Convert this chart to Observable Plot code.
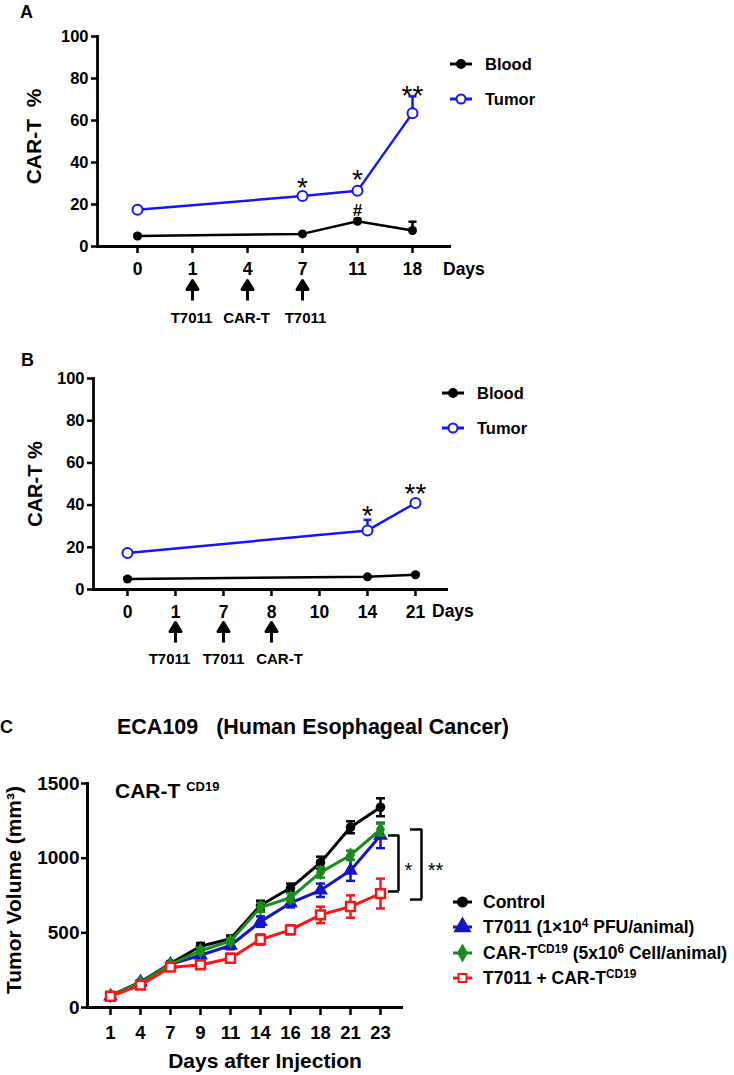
<!DOCTYPE html>
<html><head><meta charset="utf-8">
<script src="https://cdn.jsdelivr.net/npm/d3@7"></script>
<script src="https://cdn.jsdelivr.net/npm/@observablehq/plot@0.6"></script>
<style>
body{margin:0;background:#fff;}
#root{position:relative;width:734px;height:1075px;overflow:hidden;font-family:"Liberation Sans",Arial,Helvetica,sans-serif;font-weight:bold;color:#000;}
.abs{position:absolute;white-space:pre;line-height:1;}
sup{font-size:0.68em;vertical-align:baseline;position:relative;top:-0.5em;}
</style></head><body><div id="root"></div>
<script>
// ---------- Panel A data ----------
const daysA = ["0","1","4","7","11","18"];
const measDaysA = ["0","7","11","18"];
const bloodA = [5, 6, 12, 7.6];
const bloodAErr = [0.8, 0.5, 1.2, 4.2];
const tumorA = [17.5, 24, 26.5, 63.5];
const tumorAErr = [1, 1.5, 1.5, 8];
const treatDaysA = ["1","4","7"];
const treatLabelsA = ["T7011","CAR-T","T7011"];
const sigDaysA = ["7","11","18","11"];
const sigTextA = ["*","*","**","#"];
const sigYA = [31.4, 34.8, 75.2, 17.1];

// ---------- Panel B data ----------
const daysB = ["0","1","7","8","10","14","21"];
const measDaysB = ["0","14","21"];
const bloodB = [5, 6, 7];
const bloodBErr = [0.8, 0.4, 0.5];
const tumorB = [17.3, 28, 41];
const tumorBErr = [0.8, 5, 1.5];
const treatDaysB = ["1","7","8"];
const treatLabelsB = ["T7011","T7011","CAR-T"];
const sigDaysB = ["14","21"];
const sigTextB = ["*","**"];
const sigYB = [38.2, 48.5];

// ---------- Panel C data ----------
const daysC = ["1","4","7","9","11","14","16","18","21","23"];
const groupsC = ["Control","T7011","CAR-T","Combo"];
const controlC = [80, 170, 295, 410, 460, 685, 800, 970, 1207, 1341];
const controlErr = [12, 12, 15, 22, 22, 30, 30, 40, 40, 60];
const t7011C = [75, 170, 290, 350, 415, 575, 700, 785, 918, 1152];
const t7011Err = [10, 10, 15, 20, 25, 35, 30, 45, 70, 85];
const cartC = [80, 165, 290, 380, 445, 670, 735, 905, 1020, 1192];
const cartErr = [10, 10, 15, 20, 20, 30, 30, 35, 30, 40];
const comboC = [75, 150, 270, 285, 330, 455, 520, 620, 676, 763];
const comboErr = [15, 20, 20, 25, 30, 35, 30, 55, 75, 100];
const bracketsC = [{y1: 1152, y2: 777, t: "*"}, {y1: 1192, y2: 723, t: "**"}];
const sigYC = 951;

const FONT = '"Liberation Sans", Arial, Helvetica, sans-serif';
const BLUE = "#1515ff";
const root = document.getElementById("root");

function addSvg(svg, top) {
  svg.style.position = "absolute";
  svg.style.left = "0px";
  svg.style.top = top + "px";
  root.appendChild(svg);
}
function addText(html, left, top, size, extra = {}) {
  const d = document.createElement("div");
  d.className = "abs";
  d.innerHTML = html;
  Object.assign(d.style, {left: left + "px", top: top + "px", fontSize: size + "px"}, extra);
  root.appendChild(d);
  return d;
}
function legendItem(left, cy, color, symName, r, fill, html, fontSize, lineW, gap) {
  const div = document.createElement("div");
  div.style.cssText = `position:absolute;left:${left}px;top:${cy - 12}px;height:24px;display:flex;align-items:center;white-space:pre;font-size:${fontSize}px;`;
  const sym = d3.symbol(d3[symName], Math.PI * r * r)();
  div.innerHTML = `<svg width="${lineW}" height="24" style="overflow:visible;margin-right:${gap}px"><line x1="0" x2="${lineW}" y1="12" y2="12" stroke="${color}" stroke-width="3"/><path d="${sym}" transform="translate(${lineW / 2},12)" fill="${fill}" stroke="${color}" stroke-width="2"/></svg><span>${html}</span>`;
  root.appendChild(div);
}

const capSym = {draw(ctx, size) { const r = Math.sqrt(size / Math.PI); ctx.moveTo(-r, 0); ctx.lineTo(r, 0); }};
const arrowShape = {draw(ctx, l) {
  const hl = 9, hw = 5.5;
  ctx.moveTo(0, 0); ctx.lineTo(0, -(l - hl));
  ctx.moveTo(-hw, -(l - hl)); ctx.lineTo(0, -l); ctx.lineTo(hw, -(l - hl)); ctx.closePath();
}};

function series(days, vals, errs) { return days.map((d, i) => ({day: d, v: vals[i], e: errs[i]})); }

function panelAB(opts) {
  const {days, meas, blood, bloodErr, tumor, tumorErr, treatDays, treatLabels, treatDx, sigDays, sigText, sigY,
         width, height, mt, mb, ml, mr, ylabel, ylabelDx, ylabelDy, ylabelSize, arrowDy, labelDy} = opts;
  const B = series(meas, blood, bloodErr);
  const T = series(meas, tumor, tumorErr);
  const treat = treatDays.map((d, i) => ({day: d, t: treatLabels[i], i}));
  const sig = sigDays.map((d, i) => ({day: d, t: sigText[i], y: sigY[i]}));
  return Plot.plot({
    width, height, marginTop: mt, marginBottom: mb, marginLeft: ml, marginRight: mr,
    style: {fontFamily: FONT, fontWeight: "bold", overflow: "visible", background: "transparent"},
    x: {type: "point", domain: days, padding: 0.68},
    y: {domain: [0, 100]},
    marks: [
      Plot.axisY({ticks: [0, 20, 40, 60, 80, 100], tickSize: 6, tickPadding: 3, strokeWidth: 2.5, fontSize: 16.5, label: null}),
      Plot.axisX({tickSize: 7, tickPadding: 9, strokeWidth: 2.5, fontSize: 17.5, label: null}),
      Plot.ruleY([0], {strokeWidth: 2.8}),
      Plot.frame({anchor: "left", strokeWidth: 2.8}),
      Plot.text([ylabel], {frameAnchor: "left", textAnchor: "middle", dx: ylabelDx, dy: ylabelDy, rotate: -90, fontSize: ylabelSize, fontWeight: "bold"}),
      // treatment arrows & labels
      Plot.vector(treat, {x: "day", frameAnchor: "bottom", dy: arrowDy, length: 20, anchor: "start", shape: arrowShape, stroke: "black", fill: "black", strokeWidth: 3, strokeLinecap: "butt"}),
      ...treat.map((d) => Plot.text([d], {x: "day", text: "t", frameAnchor: "bottom", textAnchor: "middle", dy: labelDy, dx: treatDx[d.i], lineAnchor: "top", fontSize: 15, fontWeight: "bold"})),
      // error bars (upper)
      Plot.ruleX(B, {x: "day", y1: "v", y2: (d) => d.v + d.e, stroke: "black", strokeWidth: 2.5}),
      Plot.dot(B, {x: "day", y: (d) => d.v + d.e, symbol: capSym, r: 4, stroke: "black", strokeWidth: 2.5}),
      Plot.ruleX(T, {x: "day", y1: "v", y2: (d) => d.v + d.e, stroke: BLUE, strokeWidth: 2.5}),
      Plot.dot(T, {x: "day", y: (d) => d.v + d.e, symbol: capSym, r: 4, stroke: BLUE, strokeWidth: 2.5}),
      // lines
      Plot.line(B, {x: "day", y: "v", stroke: "black", strokeWidth: 2.5}),
      Plot.line(T, {x: "day", y: "v", stroke: BLUE, strokeWidth: 2.5}),
      Plot.dot(B, {x: "day", y: "v", r: 4.5, fill: "black"}),
      Plot.dot(T, {x: "day", y: "v", r: 5, fill: "white", stroke: BLUE, strokeWidth: 2}),
      // significance
      Plot.text(sig.filter(d => d.t !== "#"), {x: "day", y: "y", text: "t", fontSize: 28, fontWeight: "normal", dy: 7}),
      Plot.text(sig.filter(d => d.t === "#"), {x: "day", y: "y", text: "t", fontSize: 17, fontWeight: "bold"})
    ]
  });
}

// ---------- Panel A ----------
addSvg(panelAB({days: daysA, meas: measDaysA, blood: bloodA, bloodErr: bloodAErr, tumor: tumorA, tumorErr: tumorAErr,
  treatDays: treatDaysA, treatLabels: treatLabelsA, treatDx: [-1, -1, 3], sigDays: sigDaysA, sigText: sigTextA, sigY: sigYA,
  width: 734, height: 330, mt: 36, mb: 84, ml: 97, mr: 283, ylabel: "CAR-T  %", ylabelDx: -63, ylabelDy: -5, ylabelSize: 21,
  arrowDy: 54, labelDy: 66}), 0);
addText("A", 20, 3, 18);
addText("Days", 443, 261, 17.5);
legendItem(450, 64, "black", "symbolCircle", 4, "black", "Blood", 16.5, 22, 13);
legendItem(450, 99, BLUE, "symbolCircle", 4.5, "white", "Tumor", 16.5, 22, 13);

// ---------- Panel B ----------
addSvg(panelAB({days: daysB, meas: measDaysB, blood: bloodB, bloodErr: bloodBErr, tumor: tumorB, tumorErr: tumorBErr,
  treatDays: treatDaysB, treatLabels: treatLabelsB, treatDx: [-6, 0, 8], sigDays: sigDaysB, sigText: sigTextB, sigY: sigYB,
  width: 734, height: 349, mt: 48, mb: 90, ml: 93, mr: 286, ylabel: "CAR-T %", ylabelDx: -58, ylabelDy: 0, ylabelSize: 20,
  arrowDy: 53, labelDy: 64}), 330);
addText("B", 21, 351, 18);
addText("Days", 432, 603, 17.5);
legendItem(442, 393, "black", "symbolCircle", 4, "black", "Blood", 16.5, 22, 13);
legendItem(442, 428, BLUE, "symbolCircle", 4.5, "white", "Tumor", 16.5, 22, 13);

// ---------- Panel C ----------
const colorsC = {Control: "black", T7011: "#1414c8", "CAR-T": "#1a8c1a", Combo: "#ff1414"};
const symbolsC = {Control: "circle", T7011: "triangle", "CAR-T": "diamond", Combo: "square"};
const valsC = {Control: [controlC, controlErr], T7011: [t7011C, t7011Err], "CAR-T": [cartC, cartErr], Combo: [comboC, comboErr]};
const dataC = groupsC.flatMap(g => daysC.map((d, i) => ({g, day: d, v: valsC[g][0][i], e: valsC[g][1][i]})));

const seriesMarks = groupsC.flatMap(g => {
  const D = dataC.filter(d => d.g === g);
  const c = colorsC[g];
  return [
    Plot.ruleX(D, {x: "day", y1: d => d.v - d.e, y2: d => d.v + d.e, stroke: c, strokeWidth: 2.5}),
    Plot.dot(D, {x: "day", y: d => d.v + d.e, symbol: capSym, r: 4.5, stroke: c, strokeWidth: 2.5}),
    Plot.dot(D, {x: "day", y: d => d.v - d.e, symbol: capSym, r: 4.5, stroke: c, strokeWidth: 2.5}),
    Plot.line(D, {x: "day", y: "v", stroke: c, strokeWidth: 3}),
    g === "Combo"
      ? Plot.dot(D, {x: "day", y: "v", symbol: "square", r: 5, fill: "white", stroke: c, strokeWidth: 2.5})
      : Plot.dot(D, {x: "day", y: "v", symbol: symbolsC[g], r: g === "T7011" ? 5.5 : 4.8, fill: c})
  ];
});

const plotC = Plot.plot({
  width: 734, height: 395, marginTop: 103, marginBottom: 68, marginLeft: 87, marginRight: 331,
  style: {fontFamily: FONT, fontWeight: "bold", overflow: "visible", background: "transparent"},
  x: {type: "point", domain: daysC, padding: 0.66},
  y: {domain: [0, 1500]},
  marks: [
    Plot.axisY({ticks: [0, 500, 1000, 1500], tickFormat: "d", tickSize: 6, tickPadding: 2, strokeWidth: 2.5, fontSize: 19, label: null}),
    Plot.axisX({tickSize: 8, tickPadding: 10, strokeWidth: 2.5, fontSize: 18.5, label: null}),
    Plot.ruleY([0], {strokeWidth: 3}),
    Plot.frame({anchor: "left", strokeWidth: 3}),
    Plot.text(["Tumor Volume (mm³)"], {frameAnchor: "left", textAnchor: "middle", dx: -73, dy: -5.5, rotate: -90, fontSize: 21, fontWeight: "bold"}),
    Plot.text(["Days after Injection"], {frameAnchor: "bottom", textAnchor: "middle", dx: 19.5, dy: 46, lineAnchor: "top", fontSize: 21, fontWeight: "bold"}),
    ...seriesMarks,
    // brackets
    Plot.ruleX([bracketsC[0]], {x: () => "23", y1: "y1", y2: "y2", dx: 18, strokeWidth: 2.5}),
    Plot.ruleY([bracketsC[0]], {y: "y1", x1: () => "23", x2: () => "23", insetLeft: 8, insetRight: -19, strokeWidth: 2.5}),
    Plot.ruleY([bracketsC[0]], {y: "y2", x1: () => "23", x2: () => "23", insetLeft: 8, insetRight: -19, strokeWidth: 2.5}),
    Plot.ruleX([bracketsC[1]], {x: () => "23", y1: "y1", y2: "y2", dx: 41, strokeWidth: 2.5}),
    Plot.ruleY([bracketsC[1]], {y: "y1", x1: () => "23", x2: () => "23", insetLeft: 30, insetRight: -42, strokeWidth: 2.5}),
    Plot.ruleY([bracketsC[1]], {y: "y2", x1: () => "23", x2: () => "23", insetLeft: 30, insetRight: -42, strokeWidth: 2.5}),
    Plot.text([bracketsC[0]], {x: () => "23", y: () => sigYC, text: "t", dx: 28, dy: 5, fontSize: 20, fontWeight: "normal"}),
    Plot.text([bracketsC[1]], {x: () => "23", y: () => sigYC, text: "t", dx: 55, dy: 5, fontSize: 20, fontWeight: "normal"})
  ]
});
addSvg(plotC, 680);
addText("C", 0, 718, 18);
addText("ECA109   (Human Esophageal Cancer)", 117, 717, 21.5);
addText('CAR-T <sup style="font-size:13px;top:-0.55em">CD19</sup>', 115, 780, 21);
legendItem(453, 902, "black", "symbolCircle", 4.5, "black", "Control", 17.5, 19, 11);
legendItem(453, 927, "#1414c8", "symbolTriangle", 5.5, "#1414c8", "T7011 (1×10<sup>4</sup> PFU/animal)", 17.5, 19, 11);
legendItem(453, 953, "#1a8c1a", "symbolDiamond", 4.5, "#1a8c1a", "CAR-T<sup>CD19</sup> (5x10<sup>6</sup> Cell/animal)", 17.5, 19, 11);
legendItem(453, 978, "#ff1414", "symbolSquare", 4.5, "white", "T7011 + CAR-T<sup>CD19</sup>", 17.5, 19, 11);
</script></body></html>
